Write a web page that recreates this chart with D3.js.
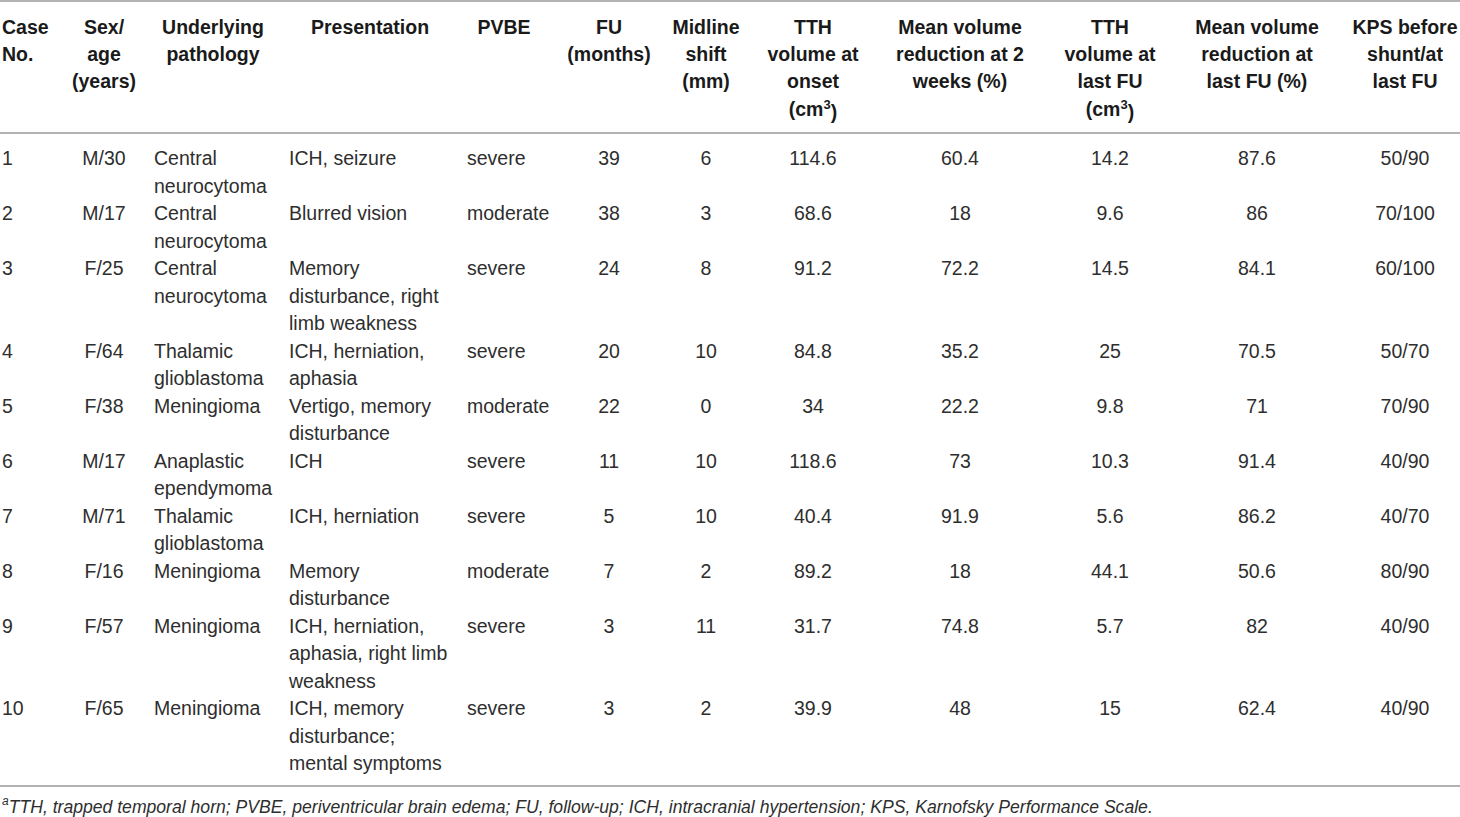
<!DOCTYPE html>
<html>
<head>
<meta charset="utf-8">
<script src="https://cdn.jsdelivr.net/npm/d3@7"></script>
<style>
  body { margin: 0; background: #fff; }
  svg text { font-family: "Liberation Sans", Arial, sans-serif; }
  .head { font-weight: bold; fill: #1a1a1a; font-size: 19.5px; }
  .cell { fill: #2e2e2e; font-size: 19.5px; }
  .note { fill: #2e2e2e; font-size: 17.6px; font-style: italic; }
  .rule { stroke: #9a9a9a; stroke-width: 1.5; }
</style>
</head>
<body>
<svg width="1460" height="817"></svg>
<script>
// table content
const headers = [
  ['Case', 'No.'],
  ['Sex/', 'age', '(years)'],
  ['Underlying', 'pathology'],
  ['Presentation'],
  ['PVBE'],
  ['FU', '(months)'],
  ['Midline', 'shift', '(mm)'],
  ['TTH', 'volume at', 'onset', '(cm^3)'],
  ['Mean volume', 'reduction at 2', 'weeks (%)'],
  ['TTH', 'volume at', 'last FU', '(cm^3)'],
  ['Mean volume', 'reduction at', 'last FU (%)'],
  ['KPS before', 'shunt/at', 'last FU']
];

const caseNo = ['1', '2', '3', '4', '5', '6', '7', '8', '9', '10'];
const sexAge = ['M/30', 'M/17', 'F/25', 'F/64', 'F/38', 'M/17', 'M/71', 'F/16', 'F/57', 'F/65'];
const pathology = [
  'Central\nneurocytoma', 'Central\nneurocytoma', 'Central\nneurocytoma',
  'Thalamic\nglioblastoma', 'Meningioma', 'Anaplastic\nependymoma',
  'Thalamic\nglioblastoma', 'Meningioma', 'Meningioma', 'Meningioma'
];
const presentation = [
  'ICH, seizure', 'Blurred vision', 'Memory\ndisturbance, right\nlimb weakness',
  'ICH, herniation,\naphasia', 'Vertigo, memory\ndisturbance', 'ICH',
  'ICH, herniation', 'Memory\ndisturbance', 'ICH, herniation,\naphasia, right limb\nweakness',
  'ICH, memory\ndisturbance;\nmental symptoms'
];
const pvbe = ['severe', 'moderate', 'severe', 'severe', 'moderate', 'severe', 'severe', 'moderate', 'severe', 'severe'];
const fuMonths = [39, 38, 24, 20, 22, 11, 5, 7, 3, 3];
const midlineShift = [6, 3, 8, 10, 0, 10, 10, 2, 11, 2];
const tthOnset = [114.6, 68.6, 91.2, 84.8, 34, 118.6, 40.4, 89.2, 31.7, 39.9];
const reduction2w = [60.4, 18, 72.2, 35.2, 22.2, 73, 91.9, 18, 74.8, 48];
const tthLastFU = [14.2, 9.6, 14.5, 25, 9.8, 10.3, 5.6, 44.1, 5.7, 15];
const reductionLastFU = [87.6, 86, 84.1, 70.5, 71, 91.4, 86.2, 50.6, 82, 62.4];
const kps = ['50/90', '70/100', '60/100', '50/70', '70/90', '40/90', '40/70', '80/90', '40/90', '40/90'];

const footnote = 'TTH, trapped temporal horn; PVBE, periventricular brain edema; FU, follow-up; ICH, intracranial hypertension; KPS, Karnofsky Performance Scale.';

function whenLoaded() {
  const svg = d3.select('svg');
  const width = +svg.attr('width');

  const columns = [caseNo, sexAge, pathology, presentation, pvbe, fuMonths, midlineShift,
    tthOnset, reduction2w, tthLastFU, reductionLastFU, kps];

  // horizontal layout: header anchor / body anchor per column
  const headX = d3.scaleOrdinal().domain(d3.range(12))
    .range([2, 104, 213, 370, 504, 609, 706, 813, 960, 1110, 1257, 1405]);
  const bodyX = d3.scaleOrdinal().domain(d3.range(12))
    .range([2, 104, 154, 289, 467, 609, 706, 813, 960, 1110, 1257, 1405]);
  const headAnchor = i => i === 0 ? 'start' : 'middle';
  const bodyAnchor = i => (i === 0 || i === 2 || i === 3 || i === 4) ? 'start' : 'middle';

  const lineH = 27.5;
  const headY = d3.scaleLinear().domain([0, 1]).range([27, 27 + 27.2]);

  // header
  const headG = svg.append('g');
  headers.forEach((lines, i) => {
    lines.forEach((ln, j) => {
      const t = headG.append('text')
        .attr('class', 'head')
        .attr('x', headX(i))
        .attr('y', headY(j))
        .attr('dy', '0.36em')
        .attr('text-anchor', headAnchor(i));
      if (ln.includes('^')) {
        const [a, b] = ln.split('^');
        t.append('tspan').text(a);
        t.append('tspan').attr('dy', '-0.5em').style('font-size', '13px').text(b.replace(')', ''));
        t.append('tspan').attr('dy', '0.5em').text(')');
      } else {
        t.text(ln);
      }
    });
  });

  // rows
  const rows = caseNo.map((c, r) => columns.map(col => String(col[r]).split('\n')));
  const rowLines = rows.map(cells => d3.max(cells, c => c.length));
  const rowStart = d3.cumsum([0, ...rowLines]);
  const bodyY = d3.scaleLinear().domain([0, 1]).range([158, 158 + lineH]);

  const rowG = svg.selectAll('g.row').data(rows).join('g').attr('class', 'row');
  rowG.each(function (cells, r) {
    const g = d3.select(this);
    cells.forEach((lines, i) => {
      lines.forEach((ln, j) => {
        g.append('text')
          .attr('class', 'cell')
          .attr('x', bodyX(i))
          .attr('y', bodyY(rowStart[r] + j))
          .attr('dy', '0.36em')
          .attr('text-anchor', bodyAnchor(i))
          .text(ln);
      });
    });
  });

  const totalLines = rowStart[rowStart.length - 1];
  const bottomRule = bodyY(totalLines - 1) + 23;

  // rules
  [1, 133, bottomRule].forEach(y => {
    svg.append('line').attr('class', 'rule')
      .attr('x1', 0).attr('x2', width)
      .attr('y1', y).attr('y2', y);
  });

  // footnote
  const note = svg.append('text').attr('class', 'note')
    .attr('x', 2).attr('y', bottomRule + 20).attr('dy', '0.36em');
  note.append('tspan').attr('dy', '-0.1em').style('font-size', '12px').text('a');
  note.append('tspan').attr('dy', '0.46em').text(footnote);
}

window.onload = whenLoaded;
</script>
</body>
</html>
